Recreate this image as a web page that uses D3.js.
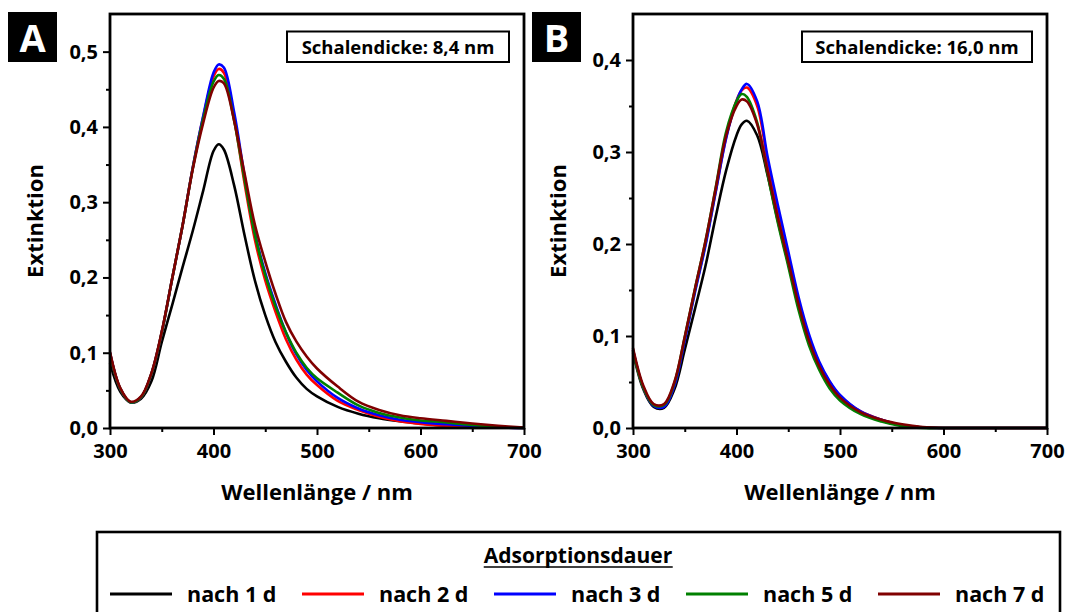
<!DOCTYPE html>
<html>
<head>
<meta charset="utf-8">
<script src="https://cdn.jsdelivr.net/npm/d3@7"></script>
<style>
  html, body { margin: 0; padding: 0; background: #fff; }
  svg { display: block; font-family: "Open Sans", "DejaVu Sans", sans-serif; font-weight: 700; }
</style>
</head>
<body>
<svg id="chart" width="1069" height="612"></svg>
<script>
// Wavelength grid (nm) shared by every spectrum
const wavelengths = [300,310,320,330,340,350,360,370,380,390,400,405,410,420,430,440,450,460,470,480,490,500,520,540,560,580,600,625,650,675,700];

// Series labels and colours (adsorption time)
const seriesLabels = ["nach 1 d", "nach 2 d", "nach 3 d", "nach 5 d", "nach 7 d"];
const seriesColors = ["#000000", "#ff0000", "#0000ff", "#008000", "#800000"];

// Panel A – shell thickness 8,4 nm
const extA_1d = [0.086,0.048,0.034,0.039,0.062,0.114,0.163,0.213,0.262,0.315,0.368,0.377,0.370,0.322,0.256,0.196,0.150,0.114,0.088,0.067,0.052,0.042,0.028,0.019,0.013,0.009,0.006,0.003,0.0015,0.0005,0.000];
const extA_2d = [0.100,0.052,0.034,0.041,0.072,0.127,0.198,0.268,0.346,0.413,0.467,0.477,0.472,0.410,0.325,0.250,0.196,0.154,0.118,0.091,0.071,0.057,0.036,0.024,0.015,0.009,0.0055,0.003,0.0015,0.0005,0.000];
const extA_3d = [0.100,0.052,0.034,0.041,0.072,0.127,0.198,0.268,0.346,0.414,0.472,0.483,0.479,0.419,0.335,0.259,0.206,0.164,0.127,0.098,0.077,0.062,0.040,0.026,0.017,0.011,0.0078,0.005,0.0027,0.001,0.000];
const extA_5d = [0.099,0.052,0.034,0.041,0.072,0.127,0.198,0.268,0.345,0.410,0.460,0.469,0.464,0.408,0.330,0.257,0.203,0.161,0.127,0.100,0.080,0.066,0.047,0.030,0.020,0.014,0.010,0.0075,0.004,0.0015,0.000];
const extA_7d = [0.101,0.053,0.035,0.042,0.073,0.128,0.198,0.268,0.344,0.405,0.452,0.461,0.458,0.408,0.338,0.270,0.221,0.178,0.141,0.115,0.095,0.079,0.055,0.035,0.024,0.017,0.013,0.0095,0.006,0.003,0.0005];

// Panel B – shell thickness 16,0 nm
const extB_1d = [0.082,0.042,0.023,0.022,0.042,0.085,0.130,0.176,0.230,0.280,0.318,0.330,0.334,0.318,0.275,0.225,0.179,0.134,0.096,0.068,0.048,0.034,0.017,0.008,0.003,0.0005,0,0,0,0,0];
const extB_2d = [0.085,0.044,0.025,0.024,0.047,0.097,0.150,0.200,0.258,0.316,0.356,0.367,0.370,0.350,0.290,0.236,0.186,0.138,0.099,0.070,0.050,0.035,0.018,0.009,0.003,0.0005,0,0,0,0,0];
const extB_3d = [0.085,0.044,0.024,0.023,0.046,0.095,0.148,0.198,0.257,0.315,0.355,0.368,0.374,0.355,0.295,0.242,0.192,0.142,0.102,0.072,0.051,0.036,0.018,0.009,0.003,0.0005,0,0,0,0,0];
const extB_5d = [0.084,0.044,0.025,0.025,0.049,0.099,0.152,0.203,0.262,0.322,0.355,0.363,0.360,0.332,0.276,0.223,0.176,0.128,0.090,0.063,0.043,0.030,0.015,0.007,0.002,0,0,0,0,0,0];
const extB_7d = [0.087,0.046,0.026,0.026,0.050,0.099,0.152,0.203,0.261,0.318,0.350,0.357,0.355,0.330,0.279,0.228,0.181,0.134,0.095,0.067,0.047,0.033,0.017,0.009,0.004,0.001,0,0,0,0,0];

// Axis ticks
const xTicksMajor = [300,400,500,600,700];
const xTicksMinor = [350,450,550,650];
const yTicksA = [0,0.1,0.2,0.3,0.4,0.5];
const yTicksMinorA = [0.05,0.15,0.25,0.35,0.45];
const yTicksB = [0,0.1,0.2,0.3,0.4];
const yTicksMinorB = [0.05,0.15,0.25,0.35];

const svg = d3.select("#chart");
const fmt = d => d3.format(".1f")(d).replace(".", ",");

function drawPanel(cfg) {
  const x = d3.scaleLinear().domain([300, 700]).range([cfg.left, cfg.right]);
  const y = d3.scaleLinear().domain([0, cfg.yMax]).range([428, 14]);
  const g = svg.append("g");

  // spectra
  const line = d3.line()
    .x((d, i) => x(wavelengths[i]))
    .y(d => y(Math.max(0, d)))
    .curve(d3.curveCatmullRom.alpha(0.5));
  cfg.series.forEach((vals, i) => {
    g.append("path")
      .attr("d", line(vals))
      .attr("fill", "none")
      .attr("stroke", seriesColors[i])
      .attr("stroke-width", 2.6)
      .attr("stroke-linejoin", "round");
  });

  // minor ticks
  const yMinor = g.append("g").attr("transform", `translate(${cfg.left},0)`)
    .call(d3.axisLeft(y).tickValues(cfg.yMinor).tickSize(4).tickFormat(""));
  const xMinor = g.append("g").attr("transform", `translate(0,428)`)
    .call(d3.axisBottom(x).tickValues(xTicksMinor).tickSize(4).tickFormat(""));

  // major ticks with labels
  const yAxis = g.append("g").attr("transform", `translate(${cfg.left},0)`)
    .call(d3.axisLeft(y).tickValues(cfg.yTicks).tickSize(7).tickPadding(5).tickFormat(fmt));
  const xAxis = g.append("g").attr("transform", `translate(0,428)`)
    .call(d3.axisBottom(x).tickValues(xTicksMajor).tickSize(7).tickPadding(9).tickFormat(d3.format("d")));

  [yMinor, xMinor, yAxis, xAxis].forEach(a => {
    a.select(".domain").remove();
    a.selectAll(".tick line").attr("stroke", "#000").attr("stroke-width", 2);
    a.selectAll(".tick text")
      .attr("fill", "#000")
      .style("font-family", "'Open Sans', sans-serif")
      .style("font-weight", 700)
      .style("font-size", "20px");
  });

  // frame
  g.append("rect")
    .attr("x", cfg.left).attr("y", 14)
    .attr("width", cfg.right - cfg.left).attr("height", 414)
    .attr("fill", "none").attr("stroke", "#000").attr("stroke-width", 2.8);

  // axis titles
  g.append("text")
    .attr("transform", `translate(${cfg.left - 67},221) rotate(-90)`)
    .attr("text-anchor", "middle")
    .style("font-size", "22px")
    .text("Extinktion");
  g.append("text")
    .attr("x", (cfg.left + cfg.right) / 2).attr("y", 500)
    .attr("text-anchor", "middle")
    .style("font-size", "22px")
    .text("Wellenlänge / nm");

  // annotation box
  g.append("rect")
    .attr("x", cfg.noteX).attr("y", 31.5)
    .attr("width", cfg.noteW).attr("height", 30.5)
    .attr("fill", "#fff").attr("stroke", "#000").attr("stroke-width", 2);
  g.append("text")
    .attr("x", cfg.noteX + cfg.noteW / 2).attr("y", 54)
    .attr("text-anchor", "middle")
    .style("font-size", "18.5px")
    .text(cfg.note);

  // panel letter
  g.append("rect")
    .attr("x", cfg.tagX).attr("y", 12)
    .attr("width", 49).attr("height", 50)
    .attr("fill", "#000");
  g.append("text")
    .attr("x", cfg.tagX + 24.5).attr("y", 52)
    .attr("text-anchor", "middle")
    .attr("fill", "#fff")
    .style("font-size", "38px")
    .text(cfg.tag);
}

drawPanel({
  left: 110, right: 524, yMax: 0.55,
  yTicks: yTicksA, yMinor: yTicksMinorA,
  series: [extA_1d, extA_2d, extA_3d, extA_5d, extA_7d],
  note: "Schalendicke: 8,4 nm", noteX: 287, noteW: 222,
  tag: "A", tagX: 8
});
drawPanel({
  left: 633, right: 1047, yMax: 0.45,
  yTicks: yTicksB, yMinor: yTicksMinorB,
  series: [extB_1d, extB_2d, extB_3d, extB_5d, extB_7d],
  note: "Schalendicke: 16,0 nm", noteX: 802, noteW: 230,
  tag: "B", tagX: 532
});

// legend
const lg = svg.append("g");
lg.append("rect")
  .attr("x", 97).attr("y", 532)
  .attr("width", 963).attr("height", 100)
  .attr("fill", "#fff").attr("stroke", "#000").attr("stroke-width", 2.6);
const title = lg.append("text")
  .attr("x", 578).attr("y", 563)
  .attr("text-anchor", "middle")
  .style("font-size", "21px")
  .text("Adsorptionsdauer");
const tb = title.node().getBBox();
lg.append("line")
  .attr("x1", tb.x).attr("x2", tb.x + tb.width)
  .attr("y1", 567).attr("y2", 567)
  .attr("stroke", "#000").attr("stroke-width", 1.6);

seriesLabels.forEach((label, i) => {
  const x0 = 110 + i * 192;
  lg.append("line")
    .attr("x1", x0).attr("x2", x0 + 62)
    .attr("y1", 594).attr("y2", 594)
    .attr("stroke", seriesColors[i]).attr("stroke-width", 3);
  lg.append("text")
    .attr("x", x0 + 77).attr("y", 602)
    .style("font-size", "21.5px")
    .text(label);
});
</script>
</body>
</html>
